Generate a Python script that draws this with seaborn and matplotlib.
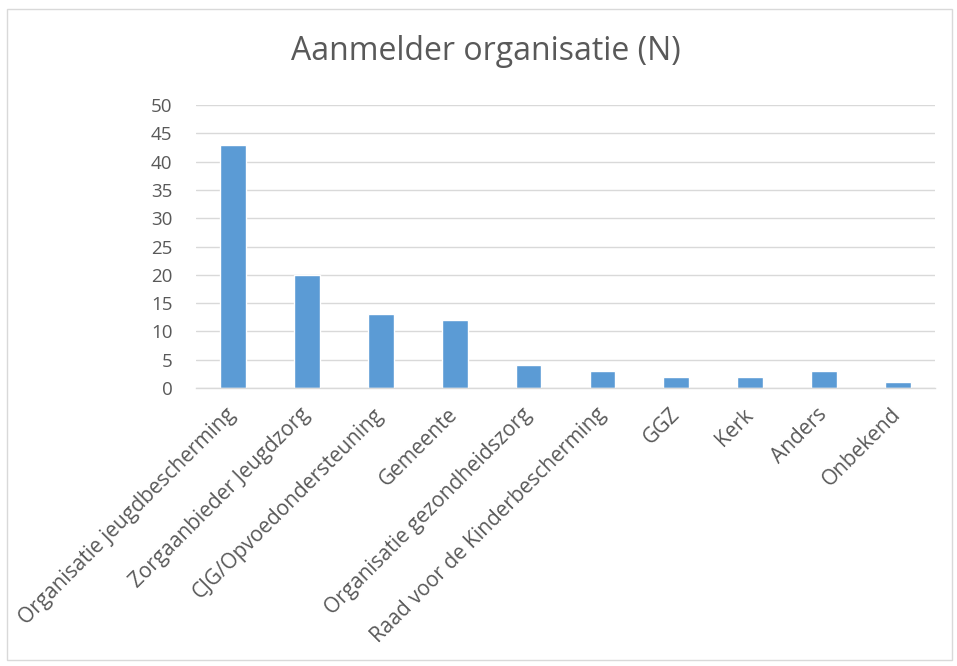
import matplotlib
matplotlib.use('Agg')
import matplotlib.pyplot as plt
import seaborn as sns
import pandas as pd
from matplotlib.patches import Rectangle

categories = ['Organisatie jeugdbescherming', 'Zorgaanbieder Jeugdzorg', 'CJG/Opvoedondersteuning',
              'Gemeente', 'Organisatie gezondheidszorg', 'Raad voor de Kinderbescherming',
              'GGZ', 'Kerk', 'Anders', 'Onbekend']
counts = [43, 20, 13, 12, 4, 3, 2, 2, 3, 1]
y_ticks = [0, 5, 10, 15, 20, 25, 30, 35, 40, 45, 50]

sns.set_style('white')
plt.rcParams['font.family'] = ['Open Sans', 'DejaVu Sans']

df = pd.DataFrame({'organisatie': categories, 'n': counts})

fig = plt.figure(figsize=(9.57, 6.66), dpi=100)
ax = fig.add_axes([0.2048, 0.4174, 0.7722, 0.4249])

sns.barplot(data=df, x='organisatie', y='n', color='#5b9bd5', width=0.35,
            saturation=1, ax=ax)

ax.set_ylim(0, 50)
ax.set_yticks(y_ticks)
ax.set_xlim(-0.5, len(categories) - 0.5)
ax.grid(axis='y', color='#d9d9d9', linewidth=1)
ax.set_axisbelow(True)
for s in ['top', 'right', 'left']:
    ax.spines[s].set_visible(False)
ax.spines['bottom'].set_color('#d9d9d9')
ax.spines['bottom'].set_linewidth(1)
ax.tick_params(axis='y', length=0, colors='#595959', labelsize=13.5, pad=17)
ax.tick_params(axis='x', length=0, colors='#595959', labelsize=15, pad=17)
ax.set_xticks(range(len(categories)))
ax.set_xticklabels(categories, rotation=45, ha='right', va='center',
                   rotation_mode='anchor')
ax.set_xlabel('')
ax.set_ylabel('')

fig.text(0.508, 0.922, 'Aanmelder organisatie (N)', ha='center', va='center',
         fontsize=23, color='#595959')

fig.patches.append(Rectangle((7 / 957, 6 / 666), 945 / 957, 651 / 666,
                             transform=fig.transFigure, fill=False,
                             edgecolor='#d9d9d9', linewidth=1))

fig.savefig('out.png', dpi=100)
